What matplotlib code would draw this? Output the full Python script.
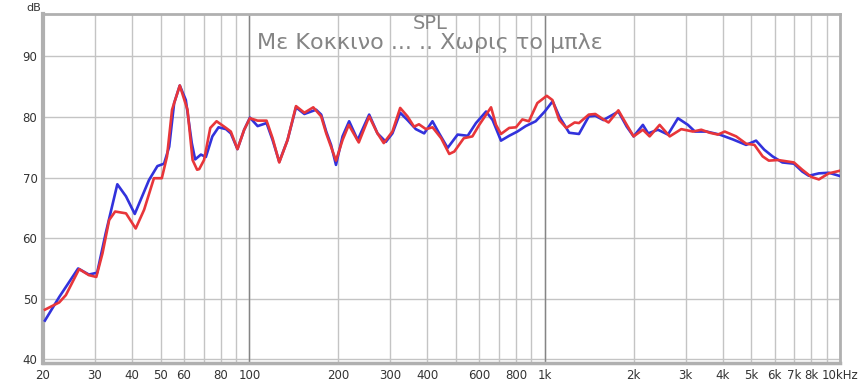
import matplotlib
matplotlib.use("Agg")
import matplotlib.pyplot as plt
from matplotlib.ticker import FixedLocator, FixedFormatter, NullFormatter

# courbe bleue (sans correction)
freq_bleu = [20.3, 22.7, 26.3, 28.6, 30.5, 32.6, 35.7, 38.2, 40.9, 45.7, 48.8, 51.4,
             53.5, 55.6, 58.1, 60.9, 63.8, 65.5, 68.5, 71.2, 74.9, 78.6, 83.3, 86.5,
             91.1, 96, 100.4, 106.6, 114.3, 119.8, 126.2, 134.6, 143.8, 153.5, 168.2,
             175, 182, 189, 196.4, 206.7, 217.6, 232.6, 254.4, 271.4, 289.8, 305, 324,
             343, 366, 390.6, 416.8, 439, 469, 507, 548.6, 585, 633, 666, 711, 758,
             808, 862, 932, 1000, 1064, 1120, 1210, 1306, 1410, 1484, 1580, 1776, 1896,
             2000, 2150, 2240, 2418, 2614, 2826, 3055, 3226, 3532, 3912, 4336, 4808,
             5196, 5540, 5910, 6380, 6980, 7450, 7840, 8480, 9160, 9930]
db_bleu = [46.4, 50.3, 55.0, 54.0, 54.3, 60.8, 68.9, 66.9, 64.0, 69.6, 71.9, 72.3,
           75.1, 82.3, 85.2, 82.8, 75.7, 73.0, 73.8, 73.4, 76.8, 78.3, 78.0, 77.3,
           74.7, 77.9, 79.9, 78.5, 79.0, 76.2, 72.6, 76.2, 81.6, 80.5, 81.2,
           80.4, 77.6, 75.4, 72.1, 76.8, 79.3, 76.2, 80.4, 77.3, 75.9, 77.3, 80.7,
           79.5, 78.0, 77.3, 79.3, 77.3, 74.9, 77.1, 76.9, 79.0, 80.9, 79.5, 76.1, 76.9,
           77.6, 78.5, 79.3, 80.9, 82.6, 80.1, 77.4, 77.2, 80.1, 80.2, 79.5, 80.9, 78.4,
           76.8, 78.7, 77.3, 77.9, 77.1, 79.8, 78.7, 77.6, 77.6, 77.1, 76.3, 75.4,
           76.1, 74.6, 73.5, 72.5, 72.3, 71.0, 70.3, 70.7, 70.8, 70.3]

# courbe rouge (avec correction)
freq_rouge = [20.3, 22.7, 23.9, 26.5, 28.6, 30.3, 31.8, 33.5, 35.1, 38.2, 41.2, 44.0,
              47.5, 50.5, 52.6, 54.7, 58.1, 61.7, 64.2, 66.5, 67.6, 70.2, 73.7, 77.4,
              83.3, 86.5, 91.1, 96, 100.4, 106.6, 114.3, 119.8, 126.2, 134.6, 143.8,
              153.5, 164.5, 175, 182, 196.4, 206.7, 217, 234.6, 254.4, 271.4, 285, 305,
              324, 343, 361, 375, 396, 417, 446, 475, 494, 532, 569, 600, 658, 684, 711,
              758, 799, 840, 884, 944, 1016, 1062, 1120, 1183, 1263, 1306, 1410, 1484,
              1580, 1645, 1776, 1896, 2000, 2150, 2266, 2450, 2650, 2900, 3178, 3390,
              3622, 3860, 4070, 4450, 4808, 5130, 5470, 5740, 6170, 6980, 7450, 8000,
              8480, 9160, 9930]
db_rouge = [48.2, 49.4, 50.6, 54.9, 53.9, 53.6, 57.5, 63.0, 64.4, 64.1, 61.6, 64.7,
            69.9, 69.9, 73.5, 81.2, 85.2, 81.2, 72.9, 71.3, 71.4, 72.9, 78.2, 79.3,
            78.2, 77.6, 74.7, 77.9, 79.8, 79.4, 79.4, 76.5, 72.5, 76.2, 81.8,
            80.7, 81.6, 80.1, 77.3, 72.8, 76.2, 78.7, 75.8, 80.1, 77.3, 75.7, 77.6,
            81.5, 80.1, 78.4, 78.8, 78.0, 78.3, 76.5, 73.9, 74.3, 76.5, 76.8, 78.7, 81.6, 78.7, 77.2,
            78.2, 78.3, 79.6, 79.3, 82.3, 83.5, 82.8, 79.5, 78.2, 79.1, 79.0, 80.4, 80.5,
            79.6, 79.1, 81.1, 78.7, 76.8, 77.9, 76.8, 78.7, 76.8, 78.0, 77.6, 77.9,
            77.4, 77.1, 77.6, 76.8, 75.6, 75.4, 73.5, 72.8, 72.9, 72.5, 71.3, 70.1,
            69.7, 70.7, 71.1]

ticks_label = [20, 30, 40, 50, 60, 80, 100, 200, 300, 400, 600, 800, 1000,
               2000, 3000, 4000, 5000, 6000, 7000, 8000, 10000]
textes_x = ["20", "30", "40", "50", "60", "80", "100", "200", "300", "400", "600",
            "800", "1k", "2k", "3k", "4k", "5k", "6k", "7k", "8k", "10kHz"]
ticks_grille = [70, 90, 500, 700, 900, 9000]
ticks_y = [40, 50, 60, 70, 80, 90]

fig = plt.figure(figsize=(8.62, 3.86), dpi=100)
ax = fig.add_axes([0.0499, 0.0596, 0.9246, 0.9041])

ax.set_xscale("log")
ax.set_xlim(20, 10000)
ax.set_ylim(39.4, 97.0)

ax.xaxis.set_major_locator(FixedLocator(ticks_label))
ax.xaxis.set_major_formatter(FixedFormatter(textes_x))
ax.xaxis.set_minor_locator(FixedLocator(ticks_grille))
ax.xaxis.set_minor_formatter(NullFormatter())
ax.set_yticks(ticks_y)

ax.grid(True, which="both", color="#c4c4c4", linewidth=1.0)
for f in (100, 1000):
    ax.axvline(f, color="#858585", linewidth=1.0, zorder=1)
ax.set_axisbelow(True)

ax.tick_params(which="both", length=0, labelsize=8.5, labelcolor="#333333", pad=4)

for s in ax.spines.values():
    s.set_color("#b0b0b0")
    s.set_linewidth(2)
ax.spines["left"].set_linewidth(3)
ax.spines["bottom"].set_linewidth(2.5)

ax.plot(freq_bleu, db_bleu, color="#3232dc", linewidth=1.9, zorder=3)
ax.plot(freq_rouge, db_rouge, color="#e8363a", linewidth=1.9, zorder=4)

fig.text(0.039, 0.978, "dB", fontsize=8, color="#333333", ha="center", va="center")
fig.text(0.499, 0.924, "SPL", fontsize=14, color="#858585", ha="center", va="baseline")
fig.text(0.499, 0.874, "Με Κοκκινο ... .. Χωρις το μπλε", fontsize=16,
         color="#858585", ha="center", va="baseline")

fig.savefig("out.png", dpi=100)
